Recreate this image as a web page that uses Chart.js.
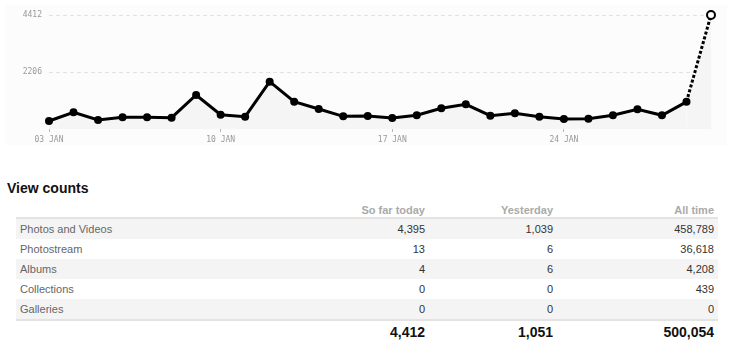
<!DOCTYPE html>
<html>
<head>
<meta charset="utf-8">
<script src="https://cdn.jsdelivr.net/npm/chart.js@4/dist/chart.umd.min.js"></script>
<style>
  html, body { margin: 0; padding: 0; background: #fff; width: 736px; height: 352px; overflow: hidden; font-family: "Liberation Sans", Arial, sans-serif; }
  #panel { position: absolute; left: 6px; top: 5px; width: 721px; height: 140px; background: #fcfcfc; }
  #chartBox { position: absolute; left: 0; top: 0; width: 736px; height: 150px; }
  h2 { position: absolute; left: 7px; top: 179px; margin: 0; font-size: 14px; line-height: 18px; font-weight: bold; color: #111; }
  table { position: absolute; left: 16px; top: 201px; width: 702px; border-collapse: collapse; table-layout: fixed; font-size: 11px; }
  th { height: 16px; padding: 0 4px; vertical-align: bottom; line-height: 13px; color: #aaa; font-weight: bold; text-align: right; border-bottom: 2px solid #e3e3e3; }
  td { height: 20px; padding: 0 4px; line-height: 20px; color: #333; text-align: right; }
  td.name { text-align: left; color: #666; }
  tbody tr:nth-child(odd) td { background: #f4f4f4; }
  tbody tr:last-child td { border-bottom: 2px solid #e3e3e3; }
  tfoot td { height: 22px; line-height: 22px; font-size: 14px; font-weight: bold; color: #111; }
</style>
</head>
<body>
<div id="panel"></div>
<div id="chartBox"><canvas id="viewsChart"></canvas></div>
<h2>View counts</h2>
<table id="counts">
  <colgroup><col style="width:285px"><col style="width:128px"><col style="width:128px"><col style="width:161px"></colgroup>
  <thead><tr id="headRow"><th></th></tr></thead>
  <tbody id="bodyRows"></tbody>
  <tfoot><tr id="totalRow"><td></td></tr></tfoot>
</table>
<script>
// daily views, 03 JAN .. 30 JAN (last day = so far today)
const days = ['03 JAN','04 JAN','05 JAN','06 JAN','07 JAN','08 JAN','09 JAN','10 JAN','11 JAN','12 JAN',
  '13 JAN','14 JAN','15 JAN','16 JAN','17 JAN','18 JAN','19 JAN','20 JAN','21 JAN','22 JAN',
  '23 JAN','24 JAN','25 JAN','26 JAN','27 JAN','28 JAN','29 JAN','30 JAN'];
const views = [310, 646, 348, 452, 452, 437, 1316, 554, 476, 1831,
  1057, 774, 491, 503, 426, 530, 801, 956, 515, 608,
  476, 387, 399, 530, 762, 530, 1051, 4412];
const yTicks = [0, 2206, 4412];

// table
const columns = ['So far today', 'Yesterday', 'All time'];
const rowNames = ['Photos and Videos', 'Photostream', 'Albums', 'Collections', 'Galleries'];
const soFarToday = [4395, 13, 4, 0, 0];
const yesterday = [1039, 6, 6, 0, 0];
const allTime = [458789, 36618, 4208, 439, 0];
const totals = [4412, 1051, 500054];

const fmt = n => n.toLocaleString('en-US');
const headRow = document.getElementById('headRow');
columns.forEach(c => { const th = document.createElement('th'); th.textContent = c; headRow.appendChild(th); });
const body = document.getElementById('bodyRows');
rowNames.forEach((name, i) => {
  const tr = document.createElement('tr');
  tr.innerHTML = '<td class="name">' + name + '</td><td>' + fmt(soFarToday[i]) + '</td><td>' +
    fmt(yesterday[i]) + '</td><td>' + fmt(allTime[i]) + '</td>';
  body.appendChild(tr);
});
const totalRow = document.getElementById('totalRow');
totals.forEach(t => { const td = document.createElement('td'); td.textContent = fmt(t); totalRow.appendChild(td); });

// chart
const last = views.length - 1;
const ctx = document.getElementById('viewsChart').getContext('2d');
new Chart(ctx, {
  type: 'line',
  data: {
    labels: days,
    datasets: [{
      data: views,
      borderColor: '#000',
      borderWidth: 3,
      backgroundColor: '#f5f5f5',
      fill: 'origin',
      tension: 0,
      clip: false,
      pointRadius: 4,
      pointBackgroundColor: c => c.dataIndex === last ? '#fff' : '#000',
      pointBorderColor: '#000',
      pointBorderWidth: c => c.dataIndex === last ? 2 : 0,
      segment: {
        borderDash: c => c.p1DataIndex === last ? [3, 2] : undefined
      }
    }]
  },
  options: {
    responsive: true,
    maintainAspectRatio: false,
    animation: false,
    layout: { padding: { top: 15, right: 25, bottom: 0, left: 0 } },
    plugins: { legend: { display: false }, tooltip: { enabled: false } },
    scales: {
      x: {
        afterFit: s => { s.height = 21; },
        afterBuildTicks: s => { s.ticks = s.ticks.filter(t => t.value % 7 === 0); },
        border: { display: false },
        grid: { drawOnChartArea: false, drawTicks: true, tickLength: 3, color: '#bbb' },
        ticks: {
          autoSkip: false, maxRotation: 0, padding: 3,
          color: '#999', font: { family: 'DejaVu Sans Mono', size: 8 },
          callback: function (v) { return this.getLabelForValue(v); }
        }
      },
      y: {
        min: 0, max: 4412,
        afterFit: s => { s.width = 49; },
        afterBuildTicks: s => { s.ticks = yTicks.map(v => ({ value: v })); },
        grid: {
          drawTicks: false,
          color: c => c.tick && c.tick.value === 0 ? 'transparent' : '#e2e2e2'
        },
        border: { display: false, dash: [4, 3] },
        ticks: {
          padding: 7, color: '#999', font: { family: 'DejaVu Sans Mono', size: 8 },
          callback: v => v === 0 ? '' : String(v)
        }
      }
    }
  }
});
</script>
</body>
</html>
